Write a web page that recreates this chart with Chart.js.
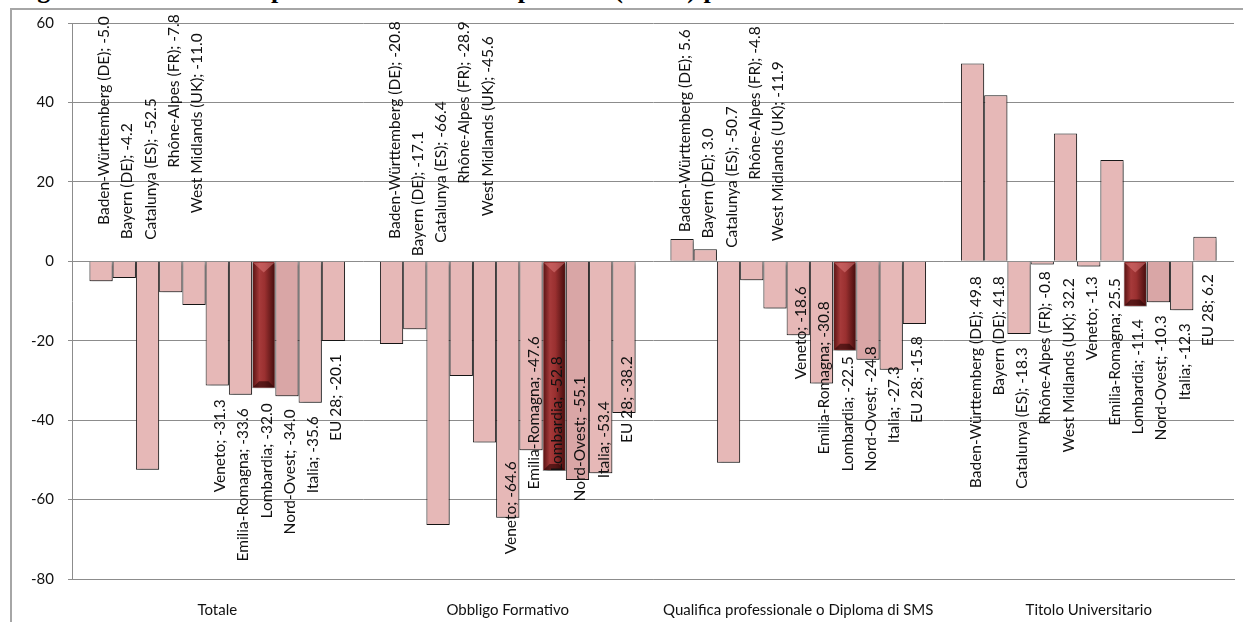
<!DOCTYPE html>
<html>
<head>
<meta charset="utf-8">
<script src="https://cdn.jsdelivr.net/npm/chart.js@4.4.0/dist/chart.umd.min.js"></script>
<style>
  html, body { margin: 0; padding: 0; background: #fff; }
  #wrap { position: relative; width: 1243px; height: 622px; overflow: hidden; }
  #title {
    position: absolute; left: 13px; top: -25px; white-space: nowrap;
    font-family: "Liberation Serif", "DejaVu Serif", serif; font-weight: bold;
    font-size: 26px; color: #000; letter-spacing: 0.6px;
  }
  #frame {
    position: absolute; left: 10px; top: 8px; width: 1300px; height: 700px;
    border-left: 2px solid #a6a6a6; border-top: 2px solid #a6a6a6;
  }
  canvas { position: absolute; left: 0; top: 0; }
</style>
</head>
<body>
<div id="wrap">
  <div id="title">Figura 15: variazione percentuale dell'occupazione (15-64) per titolo di studio tra il 2008 e il 2014</div>
  <div id="frame"></div>
  <canvas id="chart" width="1243" height="622"></canvas>
</div>
<script>
// categories on the x axis
const categories = ["Totale", "Obbligo Formativo", "Qualifica professionale o Diploma di SMS", "Titolo Universitario"];

// one series per region, values in the order of the categories
const regions = ["Baden-Württemberg (DE)", "Bayern (DE)", "Catalunya (ES)", "Rhône-Alpes (FR)", "West Midlands (UK)",
                 "Veneto", "Emilia-Romagna", "Lombardia", "Nord-Ovest", "Italia", "EU 28"];
const badenWurttemberg = [-5.0, -20.8, 5.6, 49.8];
const bayern = [-4.2, -17.1, 3.0, 41.8];
const catalunya = [-52.5, -66.4, -50.7, -18.3];
const rhoneAlpes = [-7.8, -28.9, -4.8, -0.8];
const westMidlands = [-11.0, -45.6, -11.9, 32.2];
const veneto = [-31.3, -64.6, -18.6, -1.3];
const emiliaRomagna = [-33.6, -47.6, -30.8, 25.5];
const lombardia = [-32.0, -52.8, -22.5, -11.4];
const nordOvest = [-34.0, -55.1, -24.8, -10.3];
const italia = [-35.6, -53.4, -27.3, -12.3];
const eu28 = [-20.1, -38.2, -15.8, 6.2];

// y axis range and step
const yMin = -80, yMax = 60, yStep = 20;

const seriesValues = [badenWurttemberg, bayern, catalunya, rhoneAlpes, westMidlands,
                      veneto, emiliaRomagna, lombardia, nordOvest, italia, eu28];

// where each data label ends (top of the rotated text), px from the zero line,
// one row per category (labels were dragged by hand in the original)
const labelTop = [
    [-245, -138, -163, -247, -228, 138, 147, 142, 148, 155, 93],
    [-240, -130, -160, -240, -225, 200, 75, 95, 115, 140, 95],
    [-232, -133, -155, -235, -200, 25, 40, 95, 85, 105, 75],
    [15, 15, 86, 10, 17, 15, 17, 58, 54, 62, 13]
];

const pink = "#e6b8b7";
const darkPink = "#d9a6a6";
const FONT = "Lato, 'Open Sans', sans-serif";

function fillFor(i) {
    if (i === 7) return "#8e2a2a";
    if (i === 8) return darkPink;
    return pink;
}

const datasets = regions.map((name, i) => ({
    label: name,
    data: seriesValues[i],
    backgroundColor: fillFor(i),
    borderColor: i === 7 ? "#9a9a9a" : "#1a1a1a",
    borderWidth: 1,
    barPercentage: 1.0,
    categoryPercentage: 0.88
}));

// soft drop shadow under the bars
const shadowPlugin = {
    id: "shadow",
    beforeDatasetDraw(chart) {
        const ctx = chart.ctx;
        ctx.save();
        ctx.shadowColor = "rgba(0,0,0,0.35)";
        ctx.shadowBlur = 3;
        ctx.shadowOffsetX = 2;
        ctx.shadowOffsetY = 2;
    },
    afterDatasetDraw(chart) {
        chart.ctx.restore();
    }
};

// bevelled look for Lombardia
const bevelPlugin = {
    id: "bevel",
    afterDatasetDraw(chart, args) {
        if (args.index !== 7) return;
        const ctx = chart.ctx;
        args.meta.data.forEach((bar) => {
            const p = bar.getProps(["x", "y", "base", "width"], true);
            const left = p.x - p.width / 2 + 1, w = p.width - 2;
            const top = Math.min(p.y, p.base) + 1, h = Math.abs(p.base - p.y) - 2;
            const g = ctx.createLinearGradient(left, 0, left + w, 0);
            g.addColorStop(0, "#5e1515");
            g.addColorStop(0.3, "#a63a3a");
            g.addColorStop(0.55, "#9a3030");
            g.addColorStop(1, "#4a0f0f");
            ctx.save();
            ctx.fillStyle = g;
            ctx.fillRect(left, top, w, h);
            const b = Math.min(6, h / 2);
            // light bevel on the top edge
            ctx.fillStyle = "rgba(220,120,120,0.55)";
            ctx.beginPath();
            ctx.moveTo(left, top);
            ctx.lineTo(left + w, top);
            ctx.lineTo(left + w / 2, top + b * 1.6);
            ctx.closePath();
            ctx.fill();
            // dark bevel on the bottom edge
            ctx.fillStyle = "rgba(40,5,5,0.6)";
            ctx.beginPath();
            ctx.moveTo(left, top + h);
            ctx.lineTo(left + w, top + h);
            ctx.lineTo(left + w - b, top + h - b);
            ctx.lineTo(left + b, top + h - b);
            ctx.closePath();
            ctx.fill();
            ctx.restore();
        });
    }
};

// rotated data labels "Region; value"
const labelPlugin = {
    id: "labels",
    afterDatasetsDraw(chart) {
        const ctx = chart.ctx;
        const zero = chart.scales.y.getPixelForValue(0);
        ctx.save();
        ctx.font = "15.5px " + FONT;
        ctx.fillStyle = "#111";
        ctx.textAlign = "right";
        ctx.textBaseline = "middle";
        chart.data.datasets.forEach((ds, i) => {
            const meta = chart.getDatasetMeta(i);
            meta.data.forEach((bar, j) => {
                const text = ds.label + "; " + ds.data[j].toFixed(1);
                ctx.save();
                ctx.translate(bar.x + 3, zero + labelTop[j][i]);
                ctx.rotate(-Math.PI / 2);
                ctx.fillText(text, 0, 0);
                ctx.restore();
            });
        });
        ctx.restore();
    }
};

const ctx = document.getElementById("chart").getContext("2d");
new Chart(ctx, {
    type: "bar",
    data: { labels: categories, datasets: datasets },
    options: {
        responsive: false,
        animation: false,
        devicePixelRatio: 1,
        layout: { padding: { left: 0, right: 9, top: 21, bottom: 0 } },
        plugins: { legend: { display: false }, tooltip: { enabled: false } },
        scales: {
            x: {
                grid: { display: false, drawTicks: false },
                border: { display: true, color: "#8c8c8c", width: 1 },
                ticks: { padding: 22, color: "#111", font: { family: FONT, size: 15 } },
                afterFit(scale) { scale.height = 43; }
            },
            y: {
                min: yMin, max: yMax,
                ticks: { stepSize: yStep, padding: 14, color: "#111", font: { family: FONT, size: 15 } },
                grid: { color: "#8c8c8c", lineWidth: 1, tickLength: 4 },
                border: { display: true, color: "#8c8c8c", width: 1 },
                afterFit(scale) { scale.width = 72; }
            }
        }
    },
    plugins: [shadowPlugin, bevelPlugin, labelPlugin]
});
</script>
</body>
</html>
